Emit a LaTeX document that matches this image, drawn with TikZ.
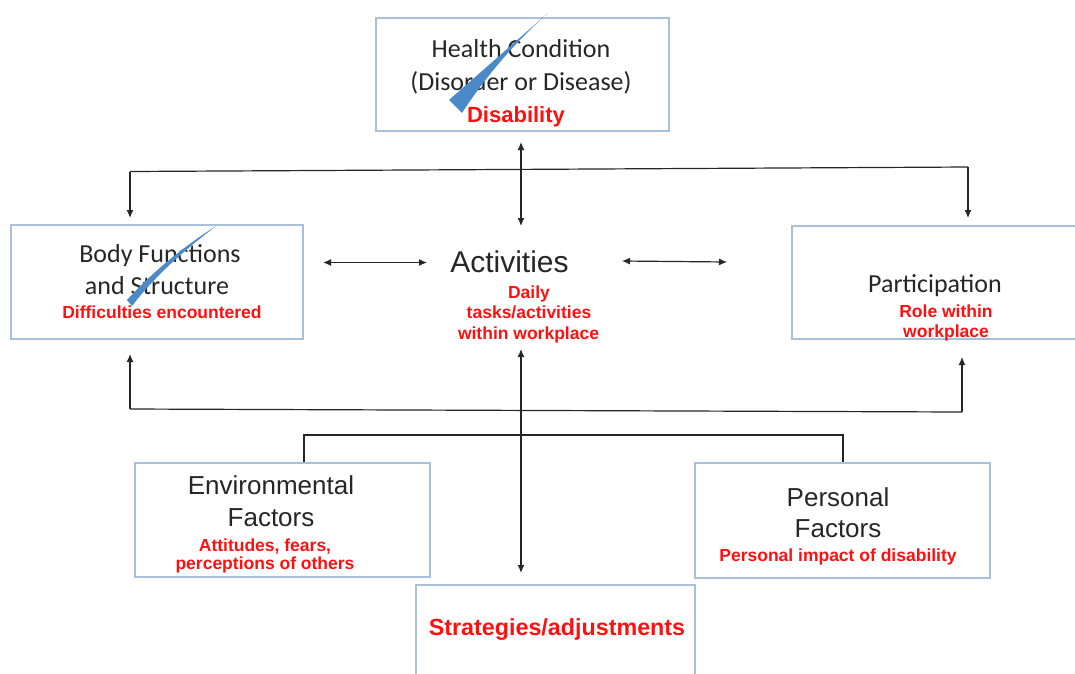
\documentclass[tikz,border=0pt]{standalone}
\usepackage{fontspec}
\setmainfont{Liberation Sans}
\newfontfamily\calib{Carlito}
\usetikzlibrary{arrows.meta}
\definecolor{boxblue}{HTML}{A9BFDA}
\definecolor{txt}{HTML}{262626}
\definecolor{slashblue}{HTML}{4C89C9}
\definecolor{redt}{HTML}{FF1010}
\begin{document}
\begin{tikzpicture}[x=1pt,y=-1pt,
  box/.style={draw=boxblue, line width=1.3pt, inner sep=0pt, fill=none},
  cal/.style={anchor=base, inner sep=0pt, text=txt, font=\calib\fontsize{26}{31}\selectfont},
  ari/.style={anchor=base, inner sep=0pt, text=txt, font=\fontsize{26}{31}\selectfont},
  red/.style={anchor=base, inner sep=0pt, text=redt, font=\bfseries\fontsize{17.5}{20}\selectfont},
  conn/.style={draw=txt, line width=1.2pt},
  tipend/.style={-{Latex[length=8pt,width=7pt]}},
  tipboth/.style={{Latex[length=8pt,width=7pt]}-{Latex[length=8pt,width=7pt]}},
  slash/.style={fill=slashblue, draw=none}]
\useasboundingbox (0,0) rectangle (1075,673);

% boxes
\node[box, minimum width=293pt, minimum height=113pt] (health) at (522.5,74.5) {};
\node[box, minimum width=292pt, minimum height=114pt] (body) at (157,282) {};
\node[box, minimum width=292pt, minimum height=113pt] (part) at (938,282.5) {};
\node[box, minimum width=295pt, minimum height=114pt] (env) at (282.5,520) {};
\node[box, minimum width=295pt, minimum height=115pt] (pers) at (842.5,520.5) {};
\node[box, minimum width=279pt, minimum height=100pt] (strat) at (555.5,635) {};

% texts
\node[cal] (hc1) at (521,57) {Health Condition};
\node[cal] (hc2) at (521,90.5) {(Disorder or Disease)};
\node[red, font=\bfseries\fontsize{22}{26}\selectfont] (hc3) at (516,122) {Disability};

\node[cal] (bf1) at (160,262.5) {Body Functions};
\node[cal] (bf2) at (157,294) {and Structure};
\node[red] (bf3) at (162,318.5) {Difficulties encountered};

\node[ari, font=\fontsize{30}{36}\selectfont] (act) at (509.5,272.5) {Activities};
\node[red] (ac1) at (529,298) {Daily};
\node[red] (ac2) at (529,318.5) {tasks/activities};
\node[red] (ac3) at (528.5,339.5) {within workplace};

\node[cal] (pa1) at (935,292.5) {Participation};
\node[red] (pa2) at (946,317) {Role within};
\node[red] (pa3) at (946,337) {workplace};

\node[ari] (en1) at (271,494.5) {Environmental};
\node[ari] (en2) at (271,526) {Factors};
\node[red] (en3) at (265,551.5) {Attitudes, fears,};
\node[red] (en4) at (265,569) {perceptions of others};

\node[ari] (pe1) at (838,506) {Personal};
\node[ari] (pe2) at (838,537.5) {Factors};
\node[red] (pe3) at (838,561.5) {Personal impact of disability};

\node[red, font=\bfseries\fontsize{23.3}{28}\selectfont] (st1) at (557,635) {Strategies/adjustments};

% connector end points
\coordinate (hTop) at (521,142);
\coordinate (aTop) at (521,226);
\coordinate (busL) at (130,171.5);
\coordinate (busR) at (968,167);
\coordinate (bodyIn) at (130,218);
\coordinate (partIn) at (968,218);
\coordinate (bL) at (323,262.5);
\coordinate (aL) at (427,262.5);
\coordinate (aR) at (622,261);
\coordinate (pR) at (727,262);
\coordinate (aBot) at (521,349);
\coordinate (sTop) at (521,573);
\coordinate (lowL) at (130,409);
\coordinate (lowR) at (962,412);
\coordinate (bodyOut) at (130,354);
\coordinate (partOut) at (962,357);
\coordinate (envUp) at (304,435);
\coordinate (persUp) at (843,435);

% connectors
\draw[conn, tipboth] (hTop) -- (aTop);
\draw[conn, tipend] (busL) -- (bodyIn);
\draw[conn] (busL) -- (busR);
\draw[conn, tipend] (busR) -- (partIn);
\draw[conn, tipboth] (bL) -- (aL);
\draw[conn, tipboth] (aR) -- (pR);
\draw[conn, tipboth] (aBot) -- (sTop);
\draw[conn, tipend] (lowL) -- (bodyOut);
\draw[conn] (lowL) -- (lowR);
\draw[conn, tipend] (lowR) -- (partOut);
\draw[conn] (env.north -| envUp) -- (envUp) -- (persUp) -- (pers.north -| persUp);

% blue slashes
\fill[slash] (548,13) -- (449,100) -- (462,113) .. controls (490,70) and (520,38) .. cycle;
\fill[slash] (216,226) .. controls (175,252) and (145,280) .. (127,300) -- (132,306) .. controls (158,272) and (190,246) .. cycle;
\end{tikzpicture}
\end{document}
